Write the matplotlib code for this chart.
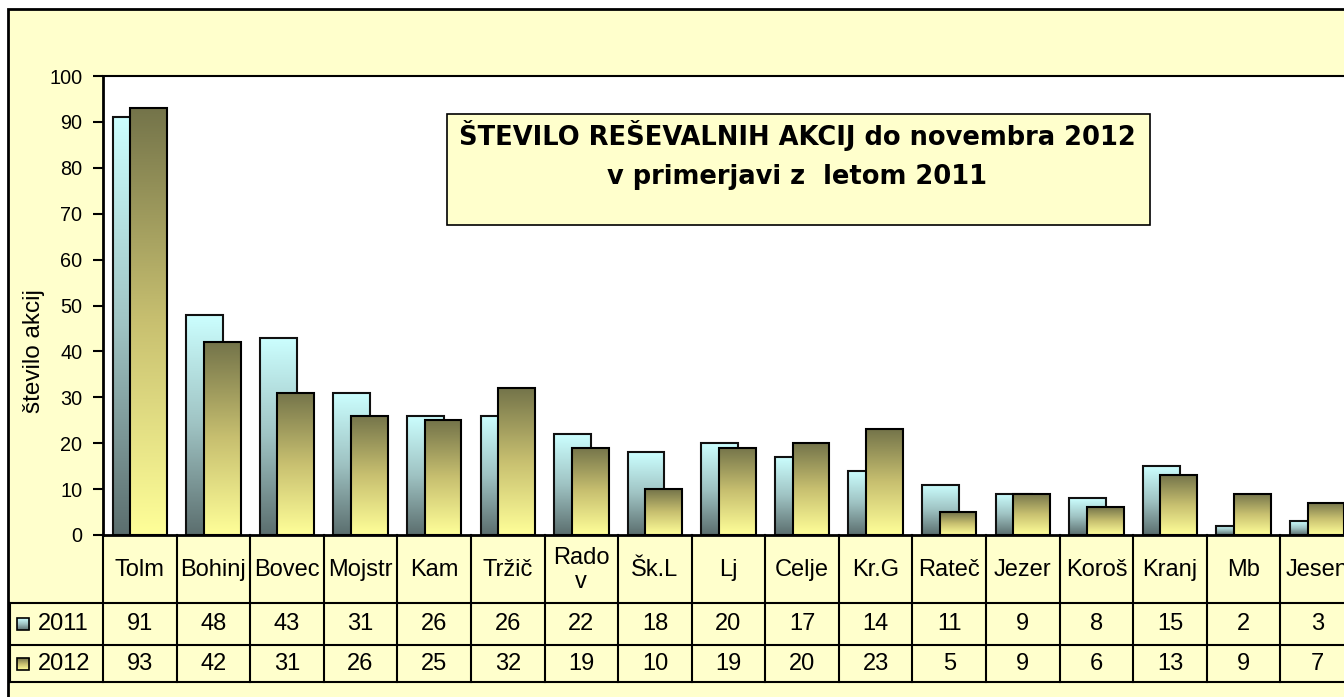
import numpy as np
import matplotlib
matplotlib.use('Agg')
import matplotlib.pyplot as plt
from matplotlib.patches import Rectangle
from matplotlib.colors import LinearSegmentedColormap
from matplotlib.lines import Line2D

# ---------------- data ----------------
categories = ['Tolm', 'Bohinj', 'Bovec', 'Mojstr', 'Kam', 'Tržič', 'Rado\nv', 'Šk.L',
              'Lj', 'Celje', 'Kr.G', 'Rateč', 'Jezer', 'Koroš', 'Kranj', 'Mb', 'Jesen']
series_names = ['2011', '2012']
values_2011 = [91, 48, 43, 31, 26, 26, 22, 18, 20, 17, 14, 11, 9, 8, 15, 2, 3]
values_2012 = [93, 42, 31, 26, 25, 32, 19, 10, 19, 20, 23, 5, 9, 6, 13, 9, 7]
y_ticks = [0, 10, 20, 30, 40, 50, 60, 70, 80, 90, 100]
title_lines = ['ŠTEVILO REŠEVALNIH AKCIJ do novembra 2012', 'v primerjavi z  letom 2011']
y_label = 'število akcij'

# ---------------- style ----------------
W, H = 1344, 697
BG = '#FFFFCC'
FONT = 'Liberation Sans'
FS_TICK = 14.3
FS_TAB = 17
FS_YLAB = 17.5
cmap_2011 = LinearSegmentedColormap.from_list('c2011', ['#5B6E6E', '#9FC3C3', '#CCFFFF'])
cmap_2012 = LinearSegmentedColormap.from_list('c2012', ['#FFFF99', '#C8C070', '#74744A'])
cmaps = [cmap_2011, cmap_2012]

plt.rcParams['font.family'] = [FONT, 'DejaVu Sans']

fig = plt.figure(figsize=(W / 100, H / 100), dpi=100)
fig.patch.set_facecolor('white')


def fx(x):
    return x / W


def fy(y):
    return 1 - y / H


# chart area background with border
fig.add_artist(Rectangle((fx(8), fy(760)), fx(1420) - fx(8), fy(9) - fy(760),
                         transform=fig.transFigure, facecolor=BG, edgecolor='black',
                         lw=2, zorder=0))

# ---------------- main plot ----------------
left_px, right_px, top_px, bot_px = 103, 1354, 76, 535
ax = fig.add_axes([fx(left_px), fy(bot_px), fx(right_px) - fx(left_px), fy(top_px) - fy(bot_px)])
ax.set_facecolor('white')

n = len(categories)
x = np.arange(n)
bw = 0.5
offs = [-0.12, 0.12]
grad = np.linspace(0, 1, 256).reshape(-1, 1)

for k, vals in enumerate([values_2011, values_2012]):
    z = 2 + k
    bars = ax.bar(x + offs[k], vals, width=bw, facecolor='none',
                  edgecolor='#111111' if k == 0 else 'black', lw=1.5, zorder=z + 0.5)
    for rect in bars:
        x0, y0 = rect.get_x(), rect.get_y()
        w, h = rect.get_width(), rect.get_height()
        im = ax.imshow(grad, cmap=cmaps[k], extent=[x0, x0 + w, y0, y0 + h],
                       origin='lower', aspect='auto', zorder=z, interpolation='bilinear')
        im.set_clip_path(rect)

ax.set_xlim(-0.5, n - 0.5)
ax.set_ylim(0, 100)
ax.set_yticks(y_ticks)
ax.set_xticks([])
ax.tick_params(axis='y', direction='out', length=7, width=1.5, labelsize=FS_TICK, pad=8)
for s in ax.spines.values():
    s.set_color('black')
    s.set_linewidth(1.5)
ax.spines['left'].set_linewidth(2)
ax.spines['bottom'].set_linewidth(2)

fig.text(fx(34), fy(351), y_label, rotation=90, ha='center', va='center', fontsize=FS_YLAB)

# ---------------- title box ----------------
fig.add_artist(Rectangle((fx(447), fy(225)), fx(1150) - fx(447), fy(114) - fy(225),
                         transform=fig.transFigure, facecolor=BG, edgecolor='black',
                         lw=1.2, zorder=5))
fig.text(fx(797), fy(145), title_lines[0], ha='center', va='baseline', fontsize=18.5,
         fontweight='bold', family='DejaVu Sans', zorder=6)
fig.text(fx(797), fy(184), title_lines[1], ha='center', va='baseline', fontsize=18.5,
         fontweight='bold', family='DejaVu Sans', zorder=6)

# ---------------- data table ----------------
cat_px = (right_px - left_px) / n
tab_left, tab_bot = 10, 682
tax = fig.add_axes([fx(tab_left), fy(tab_bot), fx(right_px) - fx(tab_left), fy(bot_px) - fy(tab_bot)])
tax.axis('off')
hdr = (left_px - tab_left) / cat_px
xl = -0.5 - hdr
tax.set_xlim(xl, n - 0.5)
rows = [0, 68, 110, 147]
tax.set_ylim(rows[-1], 0)

lk = dict(color='black', lw=1.5, clip_on=False, solid_capstyle='projecting')
for i in range(n + 1):
    tax.add_line(Line2D([i - 0.5, i - 0.5], [rows[0], rows[-1]], **lk))
for r in rows[1:]:
    tax.add_line(Line2D([xl, n - 0.5], [r, r], **lk))
tax.add_line(Line2D([xl, xl], [rows[1], rows[-1]], **lk))

for i, c in enumerate(categories):
    tax.text(i, (rows[0] + rows[1]) / 2 + 1, c, ha='center', va='center', fontsize=FS_TAB,
             linespacing=1.1)
for k, vals in enumerate([values_2011, values_2012]):
    yc = (rows[k + 1] + rows[k + 2]) / 2
    for i, v in enumerate(vals):
        tax.text(i, yc, str(v), ha='center', va='center', fontsize=FS_TAB)
    # legend key
    sx0 = xl + 7 / cat_px
    sw = 12 / cat_px
    key = Rectangle((sx0, yc - 6), sw, 12, facecolor='none', edgecolor='black', lw=1.2,
                    zorder=3, clip_on=False)
    tax.add_patch(key)
    kim = tax.imshow(grad, cmap=cmaps[k], extent=[sx0, sx0 + sw, yc + 6, yc - 6],
                     origin='lower', aspect='auto', zorder=2, interpolation='bilinear')
    kim.set_clip_on(False)
    tax.text(xl + 28 / cat_px, yc, series_names[k], ha='left', va='center', fontsize=FS_TAB)

tax.set_xlim(xl, n - 0.5)
tax.set_ylim(rows[-1], 0)

fig.savefig('out.png', dpi=100, facecolor=fig.get_facecolor())
